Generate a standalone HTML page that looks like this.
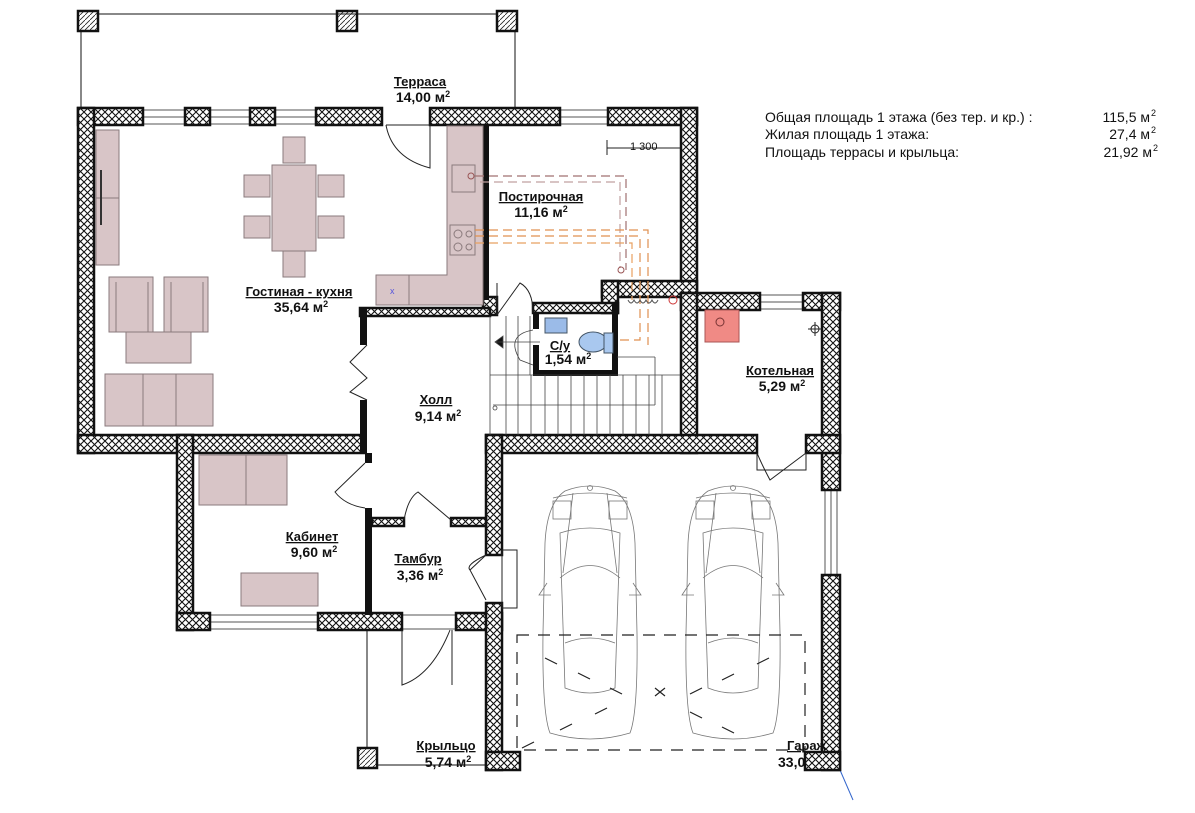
<!DOCTYPE html>
<html><head><meta charset="utf-8"><style>
html,body{margin:0;padding:0;background:#fff}
svg{display:block}
text{font-family:"Liberation Sans",sans-serif;font-weight:bold;fill:#111}
.n{font-weight:normal;font-size:14px}
</style></head><body>
<svg width="1195" height="813" viewBox="0 0 1195 813" xmlns="http://www.w3.org/2000/svg">
<defs>
<pattern id="h" width="7" height="7" patternUnits="userSpaceOnUse">
<rect width="7" height="7" fill="#fff"/>
<path d="M0,0L7,7M7,0L0,7" stroke="#111" stroke-width="1.1"/>
</pattern>
<pattern id="d" width="5" height="5" patternUnits="userSpaceOnUse">
<path d="M0,5L5,0" stroke="#222" stroke-width="0.8"/>
</pattern>
<g id="car" fill="none" stroke="#777" stroke-width="0.8">
<path d="M20,8 Q45,-2 70,8 Q88,20 90,60 L92,150 Q93,230 85,250 Q45,262 5,250 Q-3,230 -2,150 L0,60 Q2,20 20,8Z"/>
<path d="M8,15 Q45,5 82,15 M15,50 Q45,40 75,50 L70,205 Q45,215 20,205Z M28,10 L18,90 M62,10 L72,90 M15,95 Q45,70 75,95 M20,160 Q45,150 70,160"/>
<rect x="8" y="18" width="18" height="18"/><rect x="64" y="18" width="18" height="18"/>
<circle cx="45" cy="5" r="2.5"/>
<path d="M2,100 L-6,112 L6,112 M88,100 L96,112 L84,112"/>
</g>
</defs>

<g stroke="#111" stroke-width="1" fill="none">
<line x1="98" y1="14" x2="497" y2="14"/>
<line x1="81" y1="31" x2="81" y2="108"/>
<line x1="515" y1="31" x2="515" y2="108"/>
<line x1="367" y1="630" x2="367" y2="748"/>
<line x1="377" y1="765" x2="485" y2="765"/>
</g>
<g stroke="#111" stroke-width="2.5" fill="url(#d)">
<rect x="78" y="11" width="20" height="20"/>
<rect x="337" y="11" width="20" height="20"/>
<rect x="497" y="11" width="20" height="20"/>
<rect x="358" y="748" width="19" height="20"/>
</g>

<g stroke="#555" stroke-width="1" fill="#fff">
<rect x="143" y="110" width="42" height="14"/><line x1="143" y1="117" x2="185" y2="117"/>
<rect x="210" y="110" width="40" height="14"/><line x1="210" y1="117" x2="250" y2="117"/>
<rect x="275" y="110" width="41" height="14"/><line x1="275" y1="117" x2="316" y2="117"/>
<rect x="560" y="110" width="48" height="14"/><line x1="560" y1="117" x2="608" y2="117"/>
<rect x="760" y="295" width="43" height="14"/><line x1="760" y1="302" x2="803" y2="302"/>
<rect x="210" y="615" width="108" height="14"/><line x1="210" y1="622" x2="318" y2="622"/>
<rect x="825" y="490" width="12" height="85"/><line x1="831" y1="490" x2="831" y2="575"/>
<rect x="402" y="615" width="54" height="14"/>
</g>

<g fill="url(#h)" stroke="#111" stroke-width="2.5">
<rect x="78" y="108" width="65" height="17"/>
<rect x="185" y="108" width="25" height="17"/>
<rect x="250" y="108" width="25" height="17"/>
<rect x="316" y="108" width="66" height="17"/>
<rect x="430" y="108" width="130" height="17"/>
<rect x="608" y="108" width="89" height="17"/>
<rect x="78" y="108" width="16" height="345"/>
<rect x="681" y="108" width="16" height="190"/>
<rect x="602" y="281" width="95" height="16"/>
<rect x="602" y="281" width="16" height="32"/>
<rect x="681" y="293" width="79" height="17"/>
<rect x="803" y="293" width="37" height="17"/>
<rect x="822" y="293" width="18" height="197"/>
<rect x="822" y="575" width="18" height="195"/>
<rect x="681" y="293" width="16" height="160"/>
<rect x="78" y="435" width="287" height="18"/>
<rect x="486" y="435" width="271" height="18"/>
<rect x="806" y="435" width="34" height="18"/>
<rect x="177" y="435" width="16" height="195"/>
<rect x="177" y="613" width="33" height="17"/>
<rect x="318" y="613" width="84" height="17"/>
<rect x="456" y="613" width="46" height="17"/>
<rect x="486" y="435" width="16" height="120"/>
<rect x="486" y="603" width="16" height="167"/>
<rect x="486" y="752" width="34" height="18"/>
<rect x="483" y="297" width="14" height="18"/>
<rect x="533" y="303" width="85" height="10"/>
<rect x="372" y="518" width="32" height="8"/>
<rect x="451" y="518" width="35" height="8"/>
<rect x="360" y="308" width="130" height="8"/>
</g>
<g fill="#111">
<rect x="483" y="124" width="6" height="176"/>
<rect x="360" y="308" width="7" height="37"/>
<rect x="360" y="400" width="7" height="53"/>
<rect x="365" y="453" width="7" height="10"/>
<rect x="365" y="508" width="7" height="107"/>
<rect x="533" y="313" width="6" height="16"/>
<rect x="533" y="345" width="6" height="30"/>
<rect x="533" y="370" width="85" height="6"/>
<rect x="612" y="303" width="6" height="73"/>
</g>

<g fill="none" stroke="#222" stroke-width="1">
<path d="M386,125 L430,125 M386,125 Q392,158 430,168 L430,125"/>
<path d="M367,345 L350,362 L367,378 L350,392 L367,400"/>
<path d="M365,463 L335,492 Q345,505 365,508"/>
<path d="M404,520 Q408,498 418,492 L451,520"/>
<path d="M486,555 L470,570 L486,600 M486,555 Q465,565 470,570"/>
<path d="M402,630 L402,685 Q432,675 450,630 M452,630 L452,685"/>
<path d="M497,315 L520,283 Q533,290 533,313 M497,283 L497,315"/>
<path d="M757,453 L757,470 L806,470 L806,453 M806,453 L770,480 Q762,465 757,453"/>
<rect x="502" y="550" width="15" height="58"/>
</g>

<g stroke="#444" stroke-width="0.8" fill="none">
<line x1="490" y1="316" x2="490" y2="435"/>
<line x1="490" y1="375" x2="680" y2="375"/>
<line x1="617" y1="357" x2="655" y2="357"/><line x1="655" y1="357" x2="655" y2="405"/>
<line x1="493" y1="405" x2="655" y2="405"/>
<path d="M506,316V435M518,316V435M530,316V375M518,375V435M531,375V435M545,375V435M558,375V435M571,375V435M584,375V435M597,375V435M610,375V435M623,375V435M636,375V435M649,375V435M662,375V435"/>
<path d="M495,342 L540,342 M495,342 L503,336 L503,348Z" fill="#111"/>
<path d="M533,330 Q505,335 520,360 L533,365"/>
<circle cx="495" cy="408" r="2"/>
</g>

<g fill="#d8c5c7" stroke="#8a7a7c" stroke-width="1">
<rect x="96" y="130" width="23" height="135"/>
<rect x="272" y="165" width="44" height="86"/>
<rect x="283" y="137" width="22" height="26"/><rect x="283" y="251" width="22" height="26"/>
<rect x="244" y="175" width="26" height="22"/><rect x="318" y="175" width="26" height="22"/>
<rect x="244" y="216" width="26" height="22"/><rect x="318" y="216" width="26" height="22"/>
<rect x="109" y="277" width="44" height="55"/><rect x="164" y="277" width="44" height="55"/>
<rect x="126" y="332" width="65" height="31"/>
<rect x="105" y="374" width="108" height="52"/>
<path d="M447,126 L483,126 L483,305 L376,305 L376,275 L447,275Z"/>
<rect x="199" y="455" width="88" height="50"/>
<rect x="241" y="573" width="77" height="33"/>
</g>
<g fill="none" stroke="#8a7a7c" stroke-width="1">
<line x1="96" y1="198" x2="119" y2="198"/>
<path d="M116,282V332M148,282V332M171,282V332M203,282V332M143,374V426M176,374V426M246,455V505M409,275V305"/>
<rect x="452" y="165" width="23" height="27"/>
<rect x="450" y="225" width="25" height="30"/>
<circle cx="458" cy="234" r="4"/><circle cx="458" cy="247" r="4"/><circle cx="469" cy="234" r="3"/><circle cx="469" cy="247" r="3"/>
</g>
<line x1="101" y1="170" x2="101" y2="225" stroke="#333" stroke-width="2"/>
<text x="390" y="294" font-size="9" style="font-weight:normal;fill:#55d">x</text>
<rect x="545" y="318" width="22" height="15" fill="#9bbbe8" stroke="#456"/>
<ellipse cx="593" cy="342" rx="14" ry="10" fill="#a9c8ef" stroke="#456"/>
<rect x="604" y="333" width="9" height="20" fill="#a9c8ef" stroke="#456"/>
<rect x="705" y="310" width="34" height="32" fill="#f08a85" stroke="#a55"/>
<circle cx="720" cy="322" r="4" fill="none" stroke="#733"/>
<g fill="none" stroke="#222"><circle cx="815" cy="329" r="4"/><path d="M808,329H822M815,322V336"/></g>

<g fill="none" stroke-width="1.2" stroke-dasharray="9,5">
<path d="M475,176 H626 V270" stroke="#a07070"/>
<path d="M480,182 H620 V268" stroke="#c0a0a0"/>
<path d="M475,230 H648 V345" stroke="#e09050"/>
<path d="M475,236 H640 V340 H620" stroke="#e09050"/>
<path d="M475,243 H632 V300" stroke="#e8a060"/>
</g>
<g fill="none" stroke="#955"><circle cx="471" cy="176" r="3"/><circle cx="621" cy="270" r="3"/><circle cx="673" cy="300" r="4" stroke="#c33"/></g>
<path d="M628,300 q3,6 6,0 q3,6 6,0 q3,6 6,0 q3,6 6,0 q3,6 6,0" fill="none" stroke="#555"/>

<g transform="translate(545,483)"><use href="#car"/></g>
<g transform="translate(688,483)"><use href="#car"/></g>
<g fill="none" stroke="#222" stroke-width="1.2" stroke-dasharray="12,9">
<rect x="517" y="635" width="288" height="115"/>
</g>
<g stroke="#222" stroke-width="1.2">
<path d="M545,658l12,6M578,673l12,6M610,688l12,6M690,712l12,6M722,727l12,6M522,748l12,-6M560,730l12,-6M595,714l12,-6M690,694l12,-6M722,680l12,-6M757,664l12,-6M655,688l10,8M665,688l-10,8"/>
</g>
<line x1="840" y1="770" x2="853" y2="800" stroke="#36c" stroke-width="1"/>

<g font-size="13" text-anchor="middle">
<text x="420" y="86" text-decoration="underline">Терраса</text>
<text x="423" y="102" font-size="14">14,00 м<tspan font-size="9" dy="-5">2</tspan></text>
<text x="541" y="201" text-decoration="underline">Постирочная</text>
<text x="541" y="217" font-size="14">11,16 м<tspan font-size="9" dy="-5">2</tspan></text>
<text x="299" y="296" text-decoration="underline">Гостиная - кухня</text>
<text x="301" y="312" font-size="14">35,64 м<tspan font-size="9" dy="-5">2</tspan></text>
<text x="560" y="350" text-decoration="underline">С/у</text>
<text x="568" y="364" font-size="14">1,54 м<tspan font-size="9" dy="-5">2</tspan></text>
<text x="780" y="375" text-decoration="underline">Котельная</text>
<text x="782" y="391" font-size="14">5,29 м<tspan font-size="9" dy="-5">2</tspan></text>
<text x="436" y="404" text-decoration="underline">Холл</text>
<text x="438" y="421" font-size="14">9,14 м<tspan font-size="9" dy="-5">2</tspan></text>
<text x="312" y="541" text-decoration="underline">Кабинет</text>
<text x="314" y="557" font-size="14">9,60 м<tspan font-size="9" dy="-5">2</tspan></text>
<text x="418" y="563" text-decoration="underline">Тамбур</text>
<text x="420" y="580" font-size="14">3,36 м<tspan font-size="9" dy="-5">2</tspan></text>
<text x="446" y="750" text-decoration="underline">Крыльцо</text>
<text x="448" y="767" font-size="14">5,74 м<tspan font-size="9" dy="-5">2</tspan></text>
</g>
<text x="787" y="750" font-size="13" text-decoration="underline">Гараж</text>
<text x="778" y="767" font-size="14">33,0</text>
<rect x="805" y="752" width="35" height="18" fill="url(#h)" stroke="#111" stroke-width="2.5"/>

<g stroke="#222" stroke-width="1"><path d="M607,140V155M607,148H680"/></g>
<text x="630" y="150" class="n" style="font-size:11px">1 300</text>

<text class="n" x="765" y="122">Общая площадь 1 этажа (без тер. и кр.) :</text>
<text class="n" x="765" y="139">Жилая площадь 1 этажа:</text>
<text class="n" x="765" y="157">Площадь террасы и крыльца:</text>
<text class="n" x="1150" y="122" text-anchor="end">115,5 м</text><text class="n" x="1151" y="116" style="font-size:9px">2</text>
<text class="n" x="1150" y="139" text-anchor="end">27,4 м</text><text class="n" x="1151" y="133" style="font-size:9px">2</text>
<text class="n" x="1152" y="157" text-anchor="end">21,92 м</text><text class="n" x="1153" y="151" style="font-size:9px">2</text>
</svg>
</body></html>
